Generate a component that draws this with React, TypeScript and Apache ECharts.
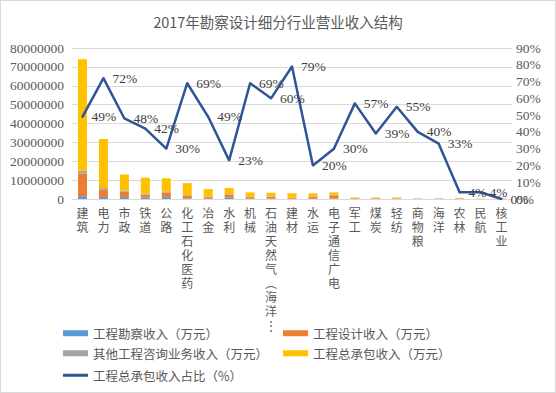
import React, { useEffect, useRef } from "react";
import * as echarts from "echarts";

const title = "2017年勘察设计细分行业营业收入结构";
const categories = ["建筑", "电力", "市政", "铁道", "公路", "化工石化医药", "冶金", "水利", "机械", "石油天然气（海洋）", "建材", "水运", "电子通信广电", "军工", "煤炭", "轻纺", "商物粮", "海洋", "农林", "民航", "核工业"];
const surveyIncome = [1500000, 1000000, 1000000, 800000, 1000000, 300000, 200000, 800000, 200000, 300000, 100000, 300000, 200000, 50000, 100000, 30000, 30000, 30000, 50000, 20000, 20000];
const designIncome = [12000000, 4000000, 3000000, 1500000, 2500000, 1500000, 800000, 1500000, 800000, 800000, 600000, 800000, 1800000, 300000, 250000, 300000, 150000, 150000, 250000, 100000, 150000];
const otherIncome = [1500000, 800000, 500000, 500000, 500000, 300000, 200000, 300000, 200000, 200000, 100000, 100000, 200000, 50000, 50000, 50000, 20000, 30000, 50000, 20000, 30000];
const epcIncome = [59000000, 26000000, 8500000, 8500000, 7000000, 6300000, 4000000, 3200000, 2300000, 2000000, 2200000, 1800000, 1300000, 400000, 400000, 450000, 100000, 100000, 250000, 60000, 100000];
const epcRatio = [49, 72, 48, 42, 30, 69, 49, 23, 69, 60, 79, 20, 30, 57, 39, 55, 40, 33, 4, 4, 0];
const leftTicks = { min: 0, max: 80000000, interval: 10000000 };
const rightTicks = { min: 0, max: 90, interval: 10 };

const seriesNames = ["工程勘察收入（万元）", "工程设计收入（万元）", "其他工程咨询业务收入（万元）", "工程总承包收入（万元）", "工程总承包收入占比（%）"];
const colors = ["#5B9BD5", "#ED7D31", "#A5A5A5", "#FFC000", "#2F5597"];

const serif = "'Liberation Serif', 'Noto Sans CJK SC', serif";
const cjk = "'Noto Sans CJK SC', sans-serif";

function formatCategory(v: string) {
  let chars = Array.from(v);
  let truncated = false;
  if (chars.length > 8) {
    chars = chars.slice(0, 8);
    truncated = true;
  }
  const mapped = chars.map((c) => (c === "（" ? "︵" : c === "）" ? "︶" : c));
  if (truncated) mapped.push("⋮");
  return mapped.join("\n");
}

export default function App() {
  const ref = useRef<HTMLDivElement>(null);
  useEffect(() => {
    document.body.style.margin = "0";
    const chart = echarts.init(ref.current!, null, { renderer: "svg" });
    const barData = [surveyIncome, designIncome, otherIncome, epcIncome];
    const legendTextStyle = { color: "#595959", fontSize: 12.5, fontFamily: cjk };
    const legendPositions = [
      { left: 62, top: 326 },
      { left: 282, top: 326 },
      { left: 62, top: 346 },
      { left: 282, top: 346 },
      { left: 62, top: 368 },
    ];
    chart.setOption({
      animation: false,
      backgroundColor: "#ffffff",
      title: {
        text: title,
        left: "center",
        top: 8,
        textStyle: { color: "#595959", fontSize: 14.5, fontWeight: "normal", fontFamily: "'Noto Sans CJK SC', serif" },
      },
      legend: seriesNames.map((n, i) => ({
        data: [n],
        left: legendPositions[i].left,
        top: legendPositions[i].top,
        itemWidth: 25,
        itemHeight: i === 4 ? 3 : 6,
        icon: "rect",
        itemGap: 5,
        textStyle: legendTextStyle,
        padding: 0,
        selectedMode: false,
      })),
      grid: { left: 71, right: 43, top: 47, bottom: 193, containLabel: false },
      xAxis: {
        type: "category",
        data: categories,
        axisLine: { show: true, lineStyle: { color: "#d9d9d9" } },
        axisTick: { show: false },
        axisLabel: {
          interval: 0,
          margin: 6,
          color: "#595959",
          fontSize: 12,
          lineHeight: 14,
          fontFamily: cjk,
          verticalAlign: "top",
          formatter: formatCategory,
        },
      },
      yAxis: [
        {
          type: "value",
          min: leftTicks.min,
          max: leftTicks.max,
          interval: leftTicks.interval,
          axisLine: { show: false },
          axisTick: { show: false },
          splitLine: { lineStyle: { color: "#d9d9d9" } },
          axisLabel: {
            color: "#595959",
            fontSize: 13.5,
            fontFamily: serif,
            margin: 8,
            formatter: (v: number) => String(v),
          },
        },
        {
          type: "value",
          min: rightTicks.min,
          max: rightTicks.max,
          interval: rightTicks.interval,
          axisLine: { show: false },
          axisTick: { show: false },
          splitLine: { show: false },
          axisLabel: { color: "#595959", fontSize: 13.5, fontFamily: serif, margin: 4, formatter: "{value}%" },
        },
      ],
      series: [
        ...barData.map((d, i) => ({
          name: seriesNames[i],
          type: "bar",
          stack: "income",
          data: d,
          barWidth: 9,
          itemStyle: { color: colors[i] },
        })),
        {
          name: seriesNames[4],
          type: "line",
          yAxisIndex: 1,
          data: epcRatio,
          symbol: "circle",
          symbolSize: 2,
          showSymbol: true,
          showAllSymbol: true,
          lineStyle: { color: colors[4], width: 2.5 },
          itemStyle: { color: colors[4] },
          label: {
            show: true,
            position: "right",
            distance: 8,
            formatter: "{c}%",
            color: "#404040",
            fontSize: 13.5,
            fontFamily: serif,
          },
          labelLayout: { hideOverlap: false },
          z: 5,
        },
      ],
    });
    return () => chart.dispose();
  }, []);
  return (
    <div
      ref={ref}
      style={{ width: 556, height: 393, boxSizing: "border-box", border: "1px solid #d9d9d9" }}
    />
  );
}
